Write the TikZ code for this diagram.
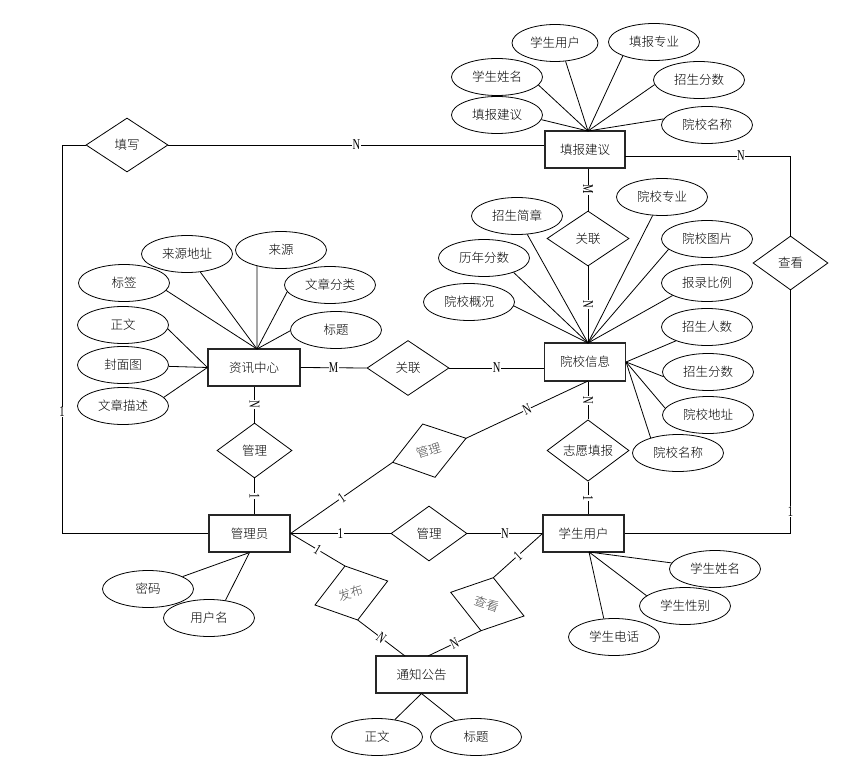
\documentclass[tikz,border=0pt]{standalone}
\usepackage{fontspec}
\setmainfont{Noto Sans CJK SC}[UprightFont=* Light]
\newfontfamily\lblf{Liberation Serif}[FakeStretch=0.7]
\usetikzlibrary{shapes.geometric}
\begin{document}
\begin{tikzpicture}[x=1pt,y=-1pt,
  cjkf/.style={font=\fontsize{12.5}{14}\selectfont},
  ent/.style={draw=black!85, line width=1.1pt, minimum width=81pt, minimum height=37pt, inner sep=0pt, cjkf},
  attr/.style={ellipse, draw, line width=0.8pt, minimum width=91pt, minimum height=37pt, inner sep=0pt, cjkf},
  rel/.style={diamond, draw, line width=0.8pt, minimum width=82pt, minimum height=55pt, inner sep=0pt, cjkf},
  rtxt/.style={cjkf, text=black!70, inner sep=0pt},
  lbl/.style={font=\lblf\fontsize{15}{15}\selectfont, fill=white, inner sep=0.4pt},
  ln/.style={line width=0.8pt}
]
\fill[white] (0,0) rectangle (858,767);
\useasboundingbox (0,0) rectangle (858,767);

% entities
\node[ent, minimum width=80pt] (tbjy) at (585,149.5) {填报建议};
\node[ent, minimum height=38pt] (yxxx) at (585,362) {院校信息};
\node[ent, minimum width=92pt] (zxzx) at (254,367.5) {资讯中心};
\node[ent] (gly) at (249.5,533.5) {管理员};
\node[ent] (xsyh) at (583.5,533.5) {学生用户};
\node[ent, minimum width=91pt] (tzgg) at (421.5,674.5) {通知公告};

% relations
\node[rel, minimum height=54pt] (txd) at (127,145) {填写};
\node[rel] (gl1) at (588,238.5) {关联};
\node[rel] (gl2) at (408,368) {关联};
\node[rel, minimum width=75pt] (gm1) at (254.5,450.5) {管理};
\node[rel, minimum width=76pt] (gm2) at (429,533.5) {管理};
\node[rel] (zytb) at (588,450.5) {志愿填报};
\node[rel, minimum width=75pt, minimum height=54pt] (ck) at (790.5,263) {查看};

% rotated relations
\coordinate (grT) at (422.7,424); \coordinate (grR) at (466,438.3);
\coordinate (grB) at (435,477.3); \coordinate (grL) at (392.7,462.3);
\draw[ln] (grT) -- (grR) -- (grB) -- (grL) -- cycle;
\node[rtxt, rotate=18] (grtxt) at (429,450.5) {管理};

\coordinate (fbT) at (345,566); \coordinate (fbR) at (387.7,581);
\coordinate (fbB) at (357.7,620); \coordinate (fbL) at (315,605);
\draw[ln] (fbT) -- (fbR) -- (fbB) -- (fbL) -- cycle;
\node[rtxt, rotate=18] (fbtxt) at (351.4,593) {发布};

\coordinate (ckT) at (493.3,577.7); \coordinate (ckR) at (524,616);
\coordinate (ckB) at (481,630.7); \coordinate (ckL) at (450.7,592.3);
\draw[ln] (ckT) -- (ckR) -- (ckB) -- (ckL) -- cycle;
\node[rtxt, rotate=-18] (cktxt) at (487.3,604.2) {查看};

% attributes of 填报建议
\node[attr, minimum width=86pt] (a1) at (555,43) {学生用户};
\node[attr] (a2) at (654,42) {填报专业};
\node[attr] (a3) at (497,77) {学生姓名};
\node[attr] (a4) at (699,80) {招生分数};
\node[attr] (a5) at (497,115) {填报建议};
\node[attr] (a6) at (707,125) {院校名称};
\coordinate (tbTop) at (588,131);
\draw[ln] (a1.300) -- (tbTop);
\draw[ln] (a2.204) -- (tbTop);
\draw[ln] (a3.349) -- (tbTop);
\draw[ln] (a4.186) -- (tbTop);
\draw[ln] (a5.354) -- (tbTop);
\draw[ln] (a6.172) -- (tbTop);

% attributes of 院校信息
\node[attr] (b1) at (517,216) {招生简章};
\node[attr] (b2) at (662,197) {院校专业};
\node[attr] (b3) at (484,258) {历年分数};
\node[attr] (b4) at (707,239) {院校图片};
\node[attr] (b5) at (469,302) {院校概况};
\node[attr] (b6) at (707,283) {报录比例};
\node[attr] (b7) at (707,327) {招生人数};
\node[attr] (b8) at (708,372) {招生分数};
\node[attr] (b9) at (708,415) {院校地址};
\node[attr] (b10) at (678,453) {院校名称};
\coordinate (yxTop) at (588,343);
\draw[ln] (b1) -- (yxTop);
\draw[ln] (b2) -- (yxTop);
\draw[ln] (b3.334) -- (yxTop);
\draw[ln] (b4.195) -- (yxTop);
\draw[ln] (b5.355) -- (yxTop);
\draw[ln] (b6.200) -- (yxTop);
\draw[ln] (b7.204) -- (yxxx.east);
\draw[ln] (b8.186) -- (yxxx.east);
\draw[ln] (b9.171) -- (yxxx.east);
\draw[ln] (b10.151) -- (yxxx.east);

% attributes of 资讯中心
\node[attr] (c1) at (124,283) {标签};
\node[attr] (c2) at (187,254) {来源地址};
\node[attr] (c3) at (281,250) {来源};
\node[attr] (c4) at (330,285) {文章分类};
\node[attr] (c5) at (336,330) {标题};
\node[attr] (c6) at (123,325) {正文};
\node[attr] (c7) at (123,365) {封面图};
\node[attr] (c8) at (123,406) {文章描述};
\coordinate (zxTop) at (257,349);
\draw[ln] (c1.350) -- (zxTop);
\draw[ln] (c2) -- (zxTop);
\draw[ln] (c3.214) -- (zxTop);
\draw[ln] (c4.189) -- (zxTop);
\draw[ln] (c5.181) -- (zxTop);
\draw[ln] (c6.355) -- (zxzx.west);
\draw[ln] (c7) -- (zxzx.west);
\draw[ln] (c8.12) -- (zxzx.west);

% attributes of 管理员
\node[attr] (d1) at (148,589) {密码};
\node[attr] (d2) at (209,618) {用户名};
\draw[ln] (d1) -- (gly.south);
\draw[ln] (d2.47) -- (gly.south);

% attributes of 学生用户
\node[attr] (e1) at (715,569) {学生姓名};
\node[attr] (e2) at (685,606) {学生性别};
\node[attr] (e3) at (614,637) {学生电话};
\coordinate (xsBot) at (589,552);
\draw[ln] (e1.172) -- (xsBot);
\draw[ln] (e2.165) -- (xsBot);
\draw[ln] (e3.119) -- (xsBot);

% attributes of 通知公告
\node[attr] (f1) at (377,737) {正文};
\node[attr] (f2) at (476,737) {标题};
\draw[ln] (f1) -- (tzgg.south);
\draw[ln] (f2) -- (tzgg.south);

% relationship connectors
\draw[ln] (txd.east) -- node[lbl]{N} (txd.east -| tbjy.west);
\coordinate (lt) at (62,145); \coordinate (lb) at (62,533.5);
\draw[ln] (txd.west) -- (lt) -- node[lbl,pos=0.687]{1} (lb) -- (gly.west);
\coordinate (rt1) at (625,156); \coordinate (rt2) at (790.5,156);
\draw[ln] (rt1) -- node[lbl,pos=0.70]{N} (rt2) -- (ck.north);
\coordinate (rb) at (790.5,533.5);
\draw[ln] (ck.south) -- node[lbl,pos=0.91]{1} (rb) -- (xsyh.east);

\draw[ln] (gl1.north |- tbjy.south) -- node[lbl,sloped]{M} (gl1.north);
\draw[ln] (gl1.south) -- node[lbl,sloped]{N} (gl1.south |- yxxx.north);
\draw[ln] (zxzx.east) -- node[lbl]{M} (gl2.west);
\draw[ln] (gl2.east) -- node[lbl]{N} (gl2.east -| yxxx.west);
\draw[ln] (gm1.north |- zxzx.south) -- node[lbl,sloped]{N} (gm1.north);
\draw[ln] (gm1.south) -- node[lbl,sloped]{1} (gm1.south |- gly.north);
\draw[ln] (zytb.north |- yxxx.south) -- node[lbl,sloped]{N} (zytb.north);
\draw[ln] (zytb.south) -- node[lbl,sloped]{1} (zytb.south |- xsyh.north);
\draw[ln] (gly.east) -- node[lbl]{1} (gm2.west);
\draw[ln] (gm2.east) -- node[lbl]{N} (xsyh.west);

\coordinate (ysb) at (588,381);
\draw[ln] (gly.east) -- node[lbl,sloped]{1} (grL);
\draw[ln] (grR) -- node[lbl,sloped]{N} (ysb);
\coordinate (tzA) at (405,656); \coordinate (tzB) at (428,656);
\draw[ln] (gly.east) -- node[lbl,sloped]{1} (fbT);
\draw[ln] (fbB) -- node[lbl,sloped]{N} (tzA);
\draw[ln] (xsyh.west) -- node[lbl,sloped]{1} (ckT);
\draw[ln] (ckB) -- node[lbl,sloped]{N} (tzB);
\end{tikzpicture}
\end{document}
